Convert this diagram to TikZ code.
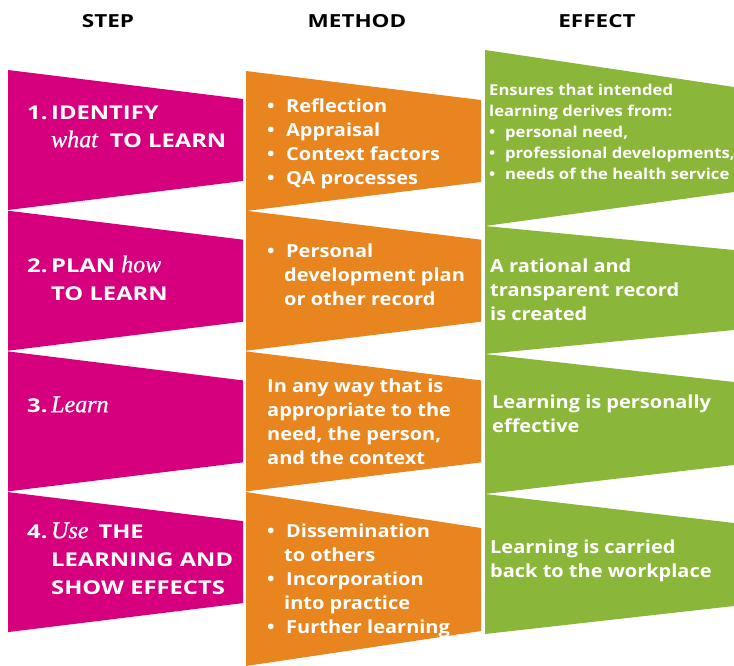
\documentclass[tikz,border=0pt]{standalone}
\usepackage{fontspec}
\setmainfont{Open Sans}
\newfontfamily\capsfont{Open Sans}[FakeStretch=1.25]
\newfontfamily\lowfont{Open Sans}[FakeStretch=1.11]
\newfontfamily\serifit{Liberation Serif}[FakeBold=0.8]
\usetikzlibrary{positioning}

\definecolor{stepcol}{RGB}{214,0,126}
\definecolor{methodcol}{RGB}{232,133,30}
\definecolor{effectcol}{RGB}{138,183,57}

\newcommand{\fl}{\rule{0pt}{18pt}}
\newcommand{\emw}[1]{{\serifit\itshape\mdseries\fontsize{24}{24}\selectfont #1}}
\newcommand{\bul}{\makebox[19pt][l]{\textbullet}}
\newcommand{\sbul}{\makebox[16pt][l]{\textbullet}}

\tikzset{
  head/.style={font=\capsfont\bfseries\fontsize{18}{18}\selectfont, anchor=base},
  txt/.style={text=white, anchor=north west, inner sep=0pt, align=left,
    font=\lowfont\bfseries\fontsize{18}{24}\selectfont},
  steptxt/.style={txt, font=\capsfont\bfseries\fontsize{19}{28}\selectfont},
  smalltxt/.style={txt, font=\lowfont\bfseries\fontsize{15}{21}\selectfont},
}

\begin{document}
\begin{tikzpicture}[x=1pt,y=-1pt]
\useasboundingbox (0,0) rectangle (734,666);

% column heads
\node[head] (hstep) at (108,28) {STEP};
\node[head] (hmethod) at (357,28) {METHOD};
\node[head] (heffect) at (597,28) {EFFECT};

% bands
\foreach \y in {70,210.7,351.4,492.1}
  \fill[stepcol] (8,\y) -- (243,\y+29) -- (243,\y+111) -- (8,\y+140) -- cycle;
\foreach \y in {71,210.7,351.4}
  \fill[methodcol] (246,\y) -- (481,\y+29) -- (481,\y+111) -- (246,\y+140) -- cycle;
\fill[methodcol] (246,492) -- (481,528) -- (481,631) -- (246,666) -- cycle;
\fill[effectcol] (485,50) -- (734,87) -- (734,192) -- (485,226) -- cycle;
\fill[effectcol] (485,226) -- (734,250) -- (734,330) -- (485,354) -- cycle;
\fill[effectcol] (485,354) -- (734,382) -- (734,465) -- (485,494) -- cycle;
\fill[effectcol] (485,494) -- (734,523) -- (734,606) -- (485,634) -- cycle;

% steps
\node[steptxt] (step1) at (27,101) {\fl\makebox[24pt][l]{1.}IDENTIFY\\
  \hspace*{24pt}\emw{what}\hspace{12pt}TO LEARN};
\node[steptxt] (step2) at (27,254) {\fl\makebox[24pt][l]{2.}PLAN\hspace{6pt}\emw{how}\\
  \hspace*{24pt}TO LEARN};
\node[steptxt] (step3) at (27,394) {\fl\makebox[24pt][l]{3.}\emw{Learn}};
\node[steptxt] (step4) at (27,520) {\fl\makebox[24pt][l]{4.}\emw{Use}\hspace{10pt}THE\\
  \hspace*{24pt}LEARNING AND\\ \hspace*{24pt}SHOW EFFECTS};

% methods
\node[txt] (method1) at (267,94) {\fl\bul Reflection\\ \bul Appraisal\\
  \bul Context factors\\ \bul QA processes};
\node[txt] (method2) at (267,239) {\fl\bul Personal\\
  \hspace*{17pt}development plan\\ \hspace*{17pt}or other record};
\node[txt] (method3) at (267,374) {\fl In any way that is\\
  appropriate to the\\ need, the person,\\ and the context};
\node[txt] (method4) at (267,519) {\fl\bul Dissemination\\
  \hspace*{17pt}to others\\ \bul Incorporation\\
  \hspace*{17pt}into practice\\ \bul Further learning};

% effects
\node[smalltxt] (effect1) at (489,77) {\fl Ensures that intended\\
  learning derives from:\\ \sbul personal need,\\
  \sbul professional developments,\\ \sbul needs of the health service};
\node[txt] (effect2) at (490,254) {\fl A rational and\\
  transparent record\\ is created};
\node[txt] (effect3) at (492,390) {\fl Learning is personally\\ effective};
\node[txt] (effect4) at (490,535) {\fl Learning is carried\\
  back to the workplace};
\end{tikzpicture}
\end{document}
